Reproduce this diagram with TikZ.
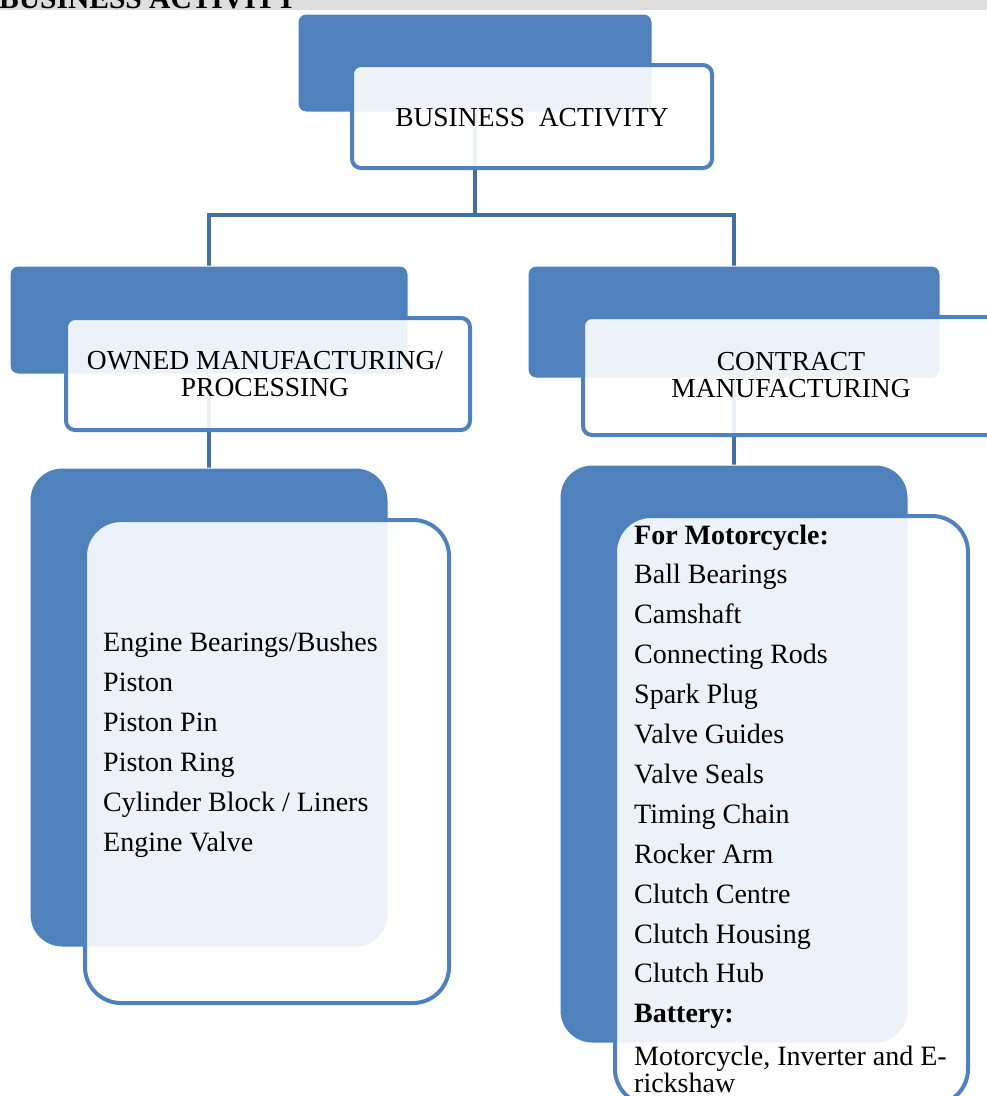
\documentclass[tikz,border=0pt]{standalone}
\usepackage{fontspec}
\setmainfont{Liberation Serif}
\usepackage{tikz}
\definecolor{accent}{HTML}{4F81BD}
\definecolor{linkblue}{HTML}{41719C}
\definecolor{stripgray}{HTML}{DEDEDE}

\begin{document}
\begin{tikzpicture}[x=1pt,y=-1pt,
  backbox/.style={rectangle, fill=accent, draw=white, line width=1pt, rounded corners=8pt, inner sep=0pt},
  frontbox/.style={rectangle, fill=white, fill opacity=0.9, draw=accent, line width=4pt, rounded corners=9pt, inner sep=0pt},
  link/.style={draw=linkblue, line width=4.5pt},
  headtext/.style={font=\fontsize{27.5}{27.5}\selectfont, align=center, inner sep=0pt},
  listtext/.style={font=\fontsize{28}{34}\selectfont, anchor=base west, inner sep=0pt}]
\useasboundingbox (0,0) rectangle (987,1096);
\fill[stripgray] (0,0) rectangle (987,10);
\node[anchor=base west, inner sep=0pt, font=\fontsize{29.5}{29.5}\selectfont\bfseries] (pagehead) at (-1,8) {BUSINESS ACTIVITY};

\coordinate (fork) at (475,215);

% connectors first, the boxes go over them
\node[backbox, minimum width=354pt, minimum height=98pt, draw=none, fill=none] (topback) at (475,63) {};
\node[backbox, rounded corners=32pt, minimum width=358pt, minimum height=479pt, draw=none, fill=none] (ownlistback) at (209,707.5) {};
\node[backbox, rounded corners=32pt, minimum width=348pt, minimum height=578pt, draw=none, fill=none] (conlistback) at (734,754) {};
\node[backbox, minimum width=398pt, minimum height=108pt, draw=none, fill=none] (ownback) at (209,320) {};
\node[backbox, minimum width=412pt, minimum height=112pt, draw=none, fill=none] (conback) at (734,322) {};
\draw[link] (topback) -- (fork);
\draw[link] (ownback) |- (fork) -| (conback);
\draw[link] (ownback) -- (ownlistback);
\draw[link] (conback) -- (conlistback);

\node[backbox, minimum width=354pt, minimum height=98pt] at (topback) {};
\node[frontbox, minimum width=360pt, minimum height=103pt] (topfront) at (532,116.5) {};
\node[backbox, minimum width=398pt, minimum height=108pt] at (ownback) {};
\node[frontbox, minimum width=404pt, minimum height=112pt] (ownfront) at (268,374) {};
\node[backbox, minimum width=412pt, minimum height=112pt] at (conback) {};
\node[frontbox, minimum width=417pt, minimum height=118pt] (confront) at (791.5,376) {};
\node[backbox, rounded corners=32pt, minimum width=358pt, minimum height=479pt] at (ownlistback) {};
\node[frontbox, rounded corners=36pt, minimum width=364pt, minimum height=483pt] (ownlistfront) at (267,761.5) {};
\node[backbox, rounded corners=32pt, minimum width=348pt, minimum height=578pt] at (conlistback) {};
\node[frontbox, rounded corners=36pt, minimum width=353pt, minimum height=589pt] (conlistfront) at (791.5,810.5) {};

\node[headtext] (toptext) at (532,118) {BUSINESS\ \ ACTIVITY};
\node[headtext] (owntext) at (265,374) {OWNED MANUFACTURING/\\PROCESSING};
\node[headtext] (context) at (791,375) {CONTRACT\\MANUFACTURING};

\foreach \name [count=\i from 0] in {Engine Bearings/Bushes, Piston, Piston Pin, Piston Ring, Cylinder Block / Liners, Engine Valve}
  \node[listtext] (own\i) at (103,{651+40*\i}) {\name};
\foreach \name [count=\i from 0] in {\textbf{For Motorcycle:}, Ball Bearings, Camshaft, Connecting Rods, Spark Plug, Valve Guides, Valve Seals, Timing Chain, Rocker Arm, Clutch Centre, Clutch Housing, Clutch Hub, \textbf{Battery:}}
  \node[listtext] (con\i) at (634,{544+39.9*\i}) {\name};
\node[listtext] (con13) at (634,1065) {Motorcycle, Inverter and E-};
\node[listtext] (con14) at (634,1092) {rickshaw};
\end{tikzpicture}
\end{document}
